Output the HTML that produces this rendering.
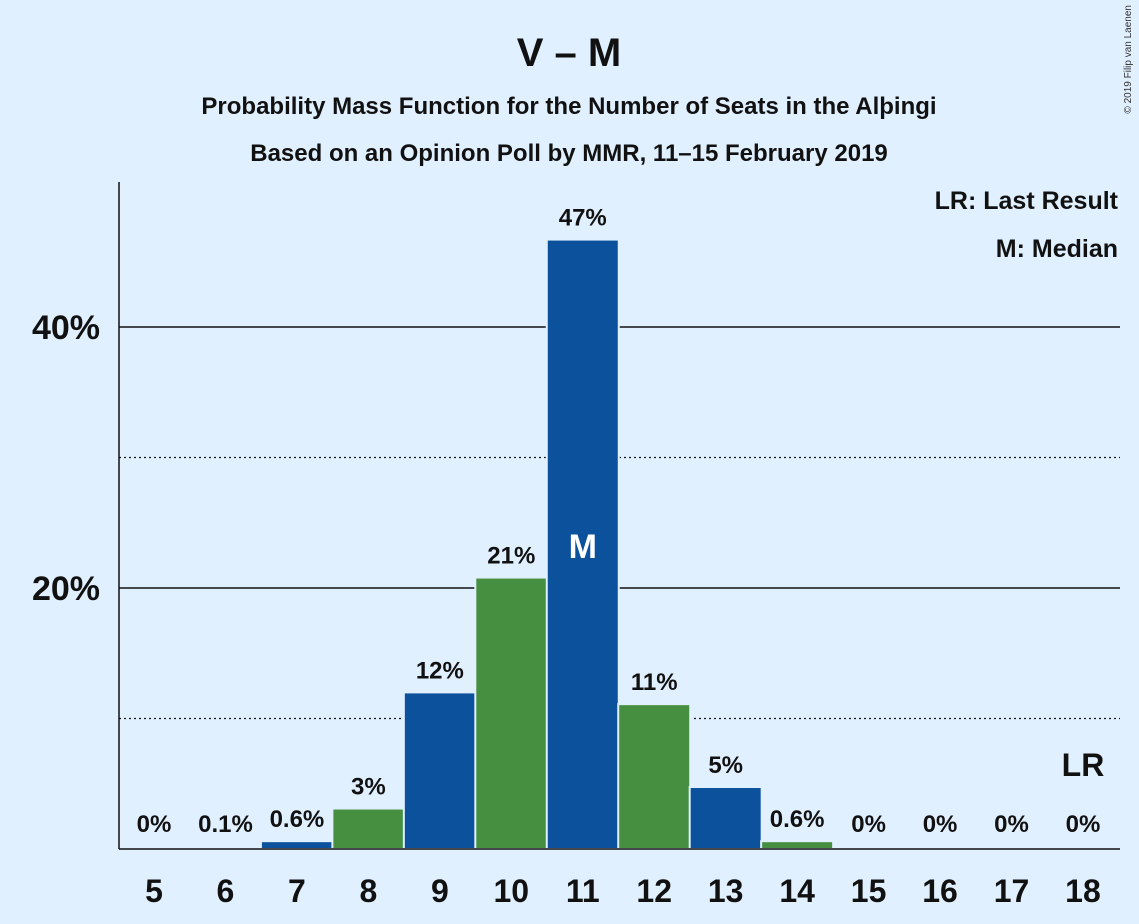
<!DOCTYPE html>
<html><head><meta charset="utf-8"><style>
body{margin:0;background:#e1f0ff;}
svg{display:block;font-family:"Liberation Sans","DejaVu Sans",sans-serif;}
</style></head><body>
<svg id="chart" width="1139" height="924" viewBox="0 0 1139 924">
<rect width="1139" height="924" fill="#e1f0ff"/>
<text x="569" y="66" text-anchor="middle" font-size="40" font-weight="bold" fill="#111">V – M</text>
<text x="569" y="114" text-anchor="middle" font-size="24" font-weight="bold" fill="#111">Probability Mass Function for the Number of Seats in the Alþingi</text>
<text x="569" y="161" text-anchor="middle" font-size="24" font-weight="bold" fill="#111">Based on an Opinion Poll by MMR, 11–15 February 2019</text>
<text x="1131" y="5" transform="rotate(-90 1131 5)" text-anchor="end" font-size="10" fill="#333">© 2019 Filip van Laenen</text>
<text x="1118" y="209" text-anchor="end" font-size="25" font-weight="bold" fill="#111">LR: Last Result</text>
<text x="1118" y="257" text-anchor="end" font-size="25" font-weight="bold" fill="#111">M: Median</text>
<g id="grid"></g>
<g id="bars"></g>
<g id="labels"></g>
<line x1="119" y1="182" x2="119" y2="849" stroke="#111" stroke-width="1.5"/>
<line x1="119" y1="849" x2="1120" y2="849" stroke="#111" stroke-width="1.5"/>
</svg>
<script>
const seats=[5,6,7,8,9,10,11,12,13,14,15,16,17,18];
const probs=[0,0.1,0.6,3.1,12,20.8,46.7,11.1,4.75,0.6,0,0,0,0];
const valueLabels=["0%","0.1%","0.6%","3%","12%","21%","47%","11%","5%","0.6%","0%","0%","0%","0%"];
const yTicks=[20,40];
const yMinor=[10,30];
const tickLabels=["20%","40%"];
const medianSeat=11;
const lastResultSeat=18;
const NS="http://www.w3.org/2000/svg";
const x=s=>154+(s-5)*71.46;
const y=v=>849-v*13.05;
function mk(t,a,p){const e=document.createElementNS(NS,t);for(const k in a)e.setAttribute(k,a[k]);p.appendChild(e);return e;}
const grid=document.getElementById('grid'),bars=document.getElementById('bars'),labels=document.getElementById('labels');
yMinor.forEach(v=>{const l=mk('line',{x1:119,x2:1120,y1:y(v),y2:y(v),stroke:'#111','stroke-width':1.2,'stroke-dasharray':'2,3'},grid);

});
yTicks.forEach((v,i)=>{const l=mk('line',{x1:119,x2:1120,y1:y(v),y2:y(v),stroke:'#111','stroke-width':1.5},grid);


const t=mk('text',{x:100,y:y(v)+12,'text-anchor':'end','font-size':34,'font-weight':'bold',fill:'#111'},labels);t.textContent=tickLabels[i];

});
seats.forEach((s,i)=>{
 const p=probs[i];
 if(p>0){const r=mk('rect',{x:x(s)-36,y:y(p),width:72,height:849-y(p),fill:(s%2? '#0c519b':'#468f41'),stroke:'#e1f0ff','stroke-width':2},bars);
 
 }
 const t=mk('text',{x:x(s),y:y(p)-14,'text-anchor':'middle','font-size':24,'font-weight':'bold',fill:'#111'},labels);t.textContent=valueLabels[i];
 if(p<0.5)t.setAttribute('y',832);
 
 
 const xl=mk('text',{x:x(s),y:902,'text-anchor':'middle','font-size':32,'font-weight':'bold',fill:'#111'},labels);xl.textContent=s;
 
 
 if(s===medianSeat){const m=mk('text',{x:x(s),y:558,'text-anchor':'middle','font-size':34,'font-weight':'bold',fill:'#fff'},labels);m.textContent='M';
 
 }
 if(s===lastResultSeat){const m=mk('text',{x:x(s),y:776,'text-anchor':'middle','font-size':32,'font-weight':'bold',fill:'#111'},labels);m.textContent='LR';
 
 }
});
</script>
</body></html>
